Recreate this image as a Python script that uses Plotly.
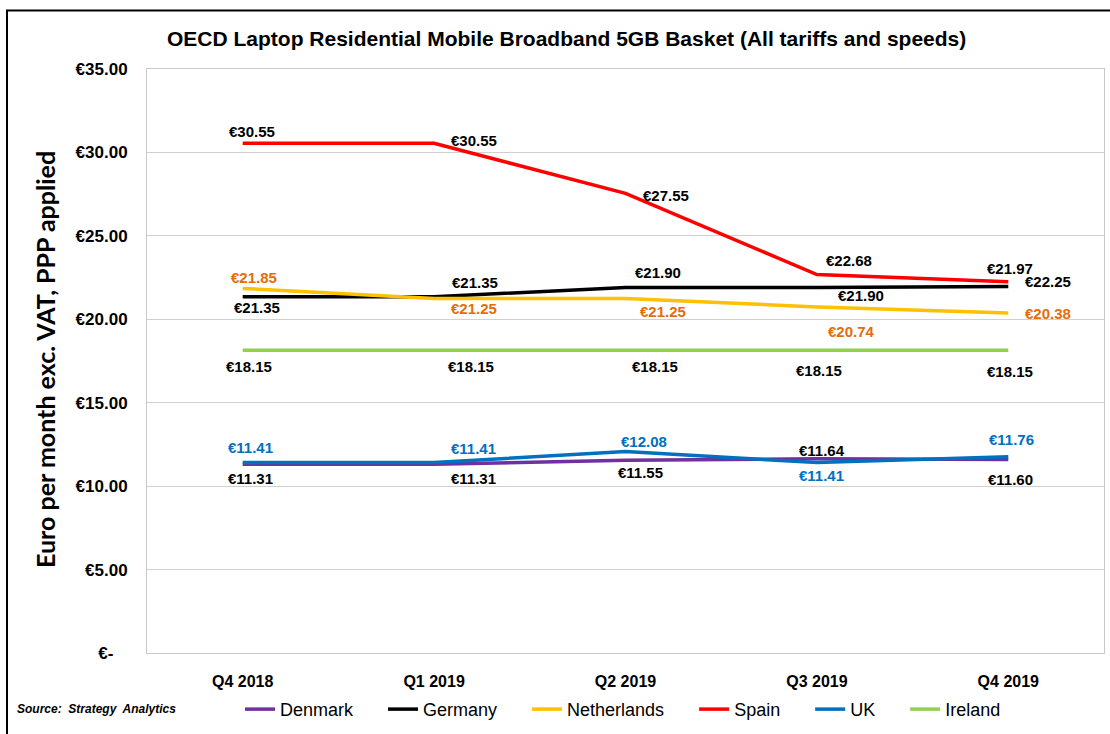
import plotly.graph_objects as go

# Quarterly basket prices (EUR per month, excl. VAT, PPP adjusted)
quarters = ["Q4 2018", "Q1 2019", "Q2 2019", "Q3 2019", "Q4 2019"]
denmark = [11.31, 11.31, 11.55, 11.64, 11.60]
germany = [21.35, 21.35, 21.90, 21.90, 21.97]
netherlands = [21.85, 21.25, 21.25, 20.74, 20.38]
spain = [30.55, 30.55, 27.55, 22.68, 22.25]
uk = [11.41, 11.41, 12.08, 11.41, 11.76]
ireland = [18.15, 18.15, 18.15, 18.15, 18.15]

y_tick_vals = [0, 5, 10, 15, 20, 25, 30, 35]
y_tick_text = ["€-\u00a0\u00a0\u00a0", "€5.00", "€10.00", "€15.00", "€20.00", "€25.00", "€30.00", "€35.00"]

FONT = "Liberation Sans, Arial, sans-serif"
LEGEND_PAD = "\u00a0" * 5  # extra room after each legend entry

# (name, values, line colour, label colour, label offsets in px as (dx, dy-down))
series = [
    ("Denmark", denmark, "#7030A0", "#000000",
     [(8, 14), (39, 14), (15, 12), (5, -8), (2, 20)]),
    ("Germany", germany, "#000000", "#000000",
     [(14, 11), (41, -14), (32, -15), (44, 8), (2, -18)]),
    ("Netherlands", netherlands, "#FFC000", "#E46C0A",
     [(11, -11), (40, 10), (37, 13), (35, 25), (40, 1)]),
    ("Spain", spain, "#FF0000", "#000000",
     [(9, -12), (40, -3), (40, 2), (32, -14), (40, 0)]),
    ("UK", uk, "#0070C0", "#0070C0",
     [(8, -15), (39, -14), (18, -10), (5, 13), (3, -17)]),
    ("Ireland", ireland, "#92D050", "#000000",
     [(6, 16), (37, 16), (29, 16), (2, 20), (2, 21)]),
]

fig = go.Figure()
annotations = []
for name, vals, color, lab_color, offsets in series:
    fig.add_trace(go.Scatter(
        x=quarters, y=vals, mode="lines", name=name + LEGEND_PAD,
        line=dict(color=color, width=3.5),
        hovertemplate=name + ": €%{y:.2f}<extra></extra>",
    ))
    for q, v, (dx, dy) in zip(quarters, vals, offsets):
        annotations.append(dict(
            x=q, y=v, xref="x", yref="y", text=f"€{v:.2f}",
            showarrow=False, xanchor="center", yanchor="middle",
            xshift=dx, yshift=-dy,
            font=dict(family=FONT, size=15, color=lab_color, weight="bold"),
        ))

W, H = 1110, 734
L, R, T, B = 147, 6, 69, 75
pw, ph = W - L - R, H - T - B


def px_x(px):
    return (px - L) / pw


def px_y(py):
    return (H - B - py) / ph


annotations += [
    dict(text="OECD Laptop Residential Mobile Broadband 5GB Basket (All tariffs and speeds)",
         x=px_x(566), y=px_y(38), xref="paper", yref="paper", showarrow=False,
         xanchor="center", yanchor="middle",
         font=dict(family=FONT, size=21, color="#000000", weight="bold")),
    dict(text="Euro per month exc. VAT, PPP applied",
         x=px_x(45), y=px_y(363), xref="paper", yref="paper", showarrow=False,
         textangle=-90, xanchor="center", yanchor="middle",
         font=dict(family="Lato, Open Sans, sans-serif", size=25, color="#000000", weight="bold")),
    dict(text="<b><i>Source:  Strategy  Analytics</i></b>",
         x=px_x(15), y=px_y(716), xref="paper", yref="paper", showarrow=False,
         xanchor="left", yanchor="middle",
         font=dict(family=FONT, size=12, color="#000000")),
]

fig.update_layout(
    width=W, height=H,
    margin=dict(l=L, r=R, t=T, b=B, pad=0),
    paper_bgcolor="#FFFFFF", plot_bgcolor="#FFFFFF",
    font=dict(family=FONT, color="#000000"),
    showlegend=True,
    legend=dict(
        orientation="h", x=px_x(240), y=px_y(716), xanchor="left", yanchor="middle",
        font=dict(family=FONT, size=18, color="#000000"),
        bgcolor="rgba(0,0,0,0)", itemwidth=30, tracegroupgap=0,
    ),
    annotations=annotations,
    shapes=[dict(type="rect", xref="paper", yref="paper",
                 x0=px_x(7), x1=px_x(1120), y0=px_y(745), y1=px_y(10),
                 line=dict(color="#000000", width=2), layer="above")],
)

fig.update_xaxes(
    type="category", range=[-0.5, 4.5],
    showgrid=False, showline=True, mirror=True, linecolor="#C8C8C8", linewidth=1,
    ticks="", ticklabelstandoff=14,
    tickfont=dict(family=FONT, size=16, color="#000000", weight="bold"),
    zeroline=False,
)
fig.update_yaxes(
    range=[0, 35], tickvals=y_tick_vals, ticktext=y_tick_text,
    showgrid=True, gridcolor="#D0D0D0", gridwidth=1,
    showline=True, mirror=True, linecolor="#C8C8C8", linewidth=1,
    ticks="", ticklabelstandoff=15,
    tickfont=dict(family=FONT, size=17, color="#000000", weight="bold"),
    zeroline=False,
)

fig.write_html("out.html")
